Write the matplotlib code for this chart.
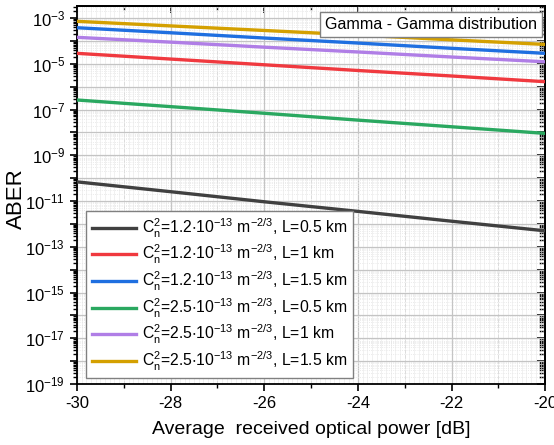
import matplotlib
matplotlib.use('Agg')
import matplotlib.pyplot as plt
import matplotlib.ticker as mticker
import numpy as np

plt.rcParams['font.family'] = ['Liberation Sans', 'DejaVu Sans']
plt.rcParams['mathtext.default'] = 'regular'
plt.rcParams['axes.unicode_minus'] = False

# received power [dB]
power = [-30, -28, -26, -24, -22, -20]

# log10(ABER)
log_aber_12_05 = [-10.16, -10.59, -11.03, -11.45, -11.88, -12.30]
log_aber_12_10 = [-4.54, -4.79, -5.04, -5.29, -5.53, -5.78]
log_aber_12_15 = [-3.42, -3.64, -3.87, -4.09, -4.32, -4.54]
log_aber_25_05 = [-6.58, -6.87, -7.16, -7.46, -7.75, -8.04]
log_aber_25_10 = [-3.84, -4.05, -4.27, -4.48, -4.70, -4.91]
log_aber_25_15 = [-3.14, -3.34, -3.54, -3.74, -3.95, -4.15]

labels = [
    r'$C_n^2$=1.2$\cdot$10$^{-13}$ m$^{-2/3}$, L=0.5 km',
    r'$C_n^2$=1.2$\cdot$10$^{-13}$ m$^{-2/3}$, L=1 km',
    r'$C_n^2$=1.2$\cdot$10$^{-13}$ m$^{-2/3}$, L=1.5 km',
    r'$C_n^2$=2.5$\cdot$10$^{-13}$ m$^{-2/3}$, L=0.5 km',
    r'$C_n^2$=2.5$\cdot$10$^{-13}$ m$^{-2/3}$, L=1 km',
    r'$C_n^2$=2.5$\cdot$10$^{-13}$ m$^{-2/3}$, L=1.5 km',
]
series = [log_aber_12_05, log_aber_12_10, log_aber_12_15,
          log_aber_25_05, log_aber_25_10, log_aber_25_15]
colors = ['#404040', '#f0393f', '#1f6fe0', '#2aa860', '#b07ee6', '#d4a000']

fig = plt.figure(figsize=(5.54, 4.45), dpi=100)
ax = fig.add_axes([0.139, 0.137, 0.845, 0.849])

for s, lab, c in zip(series, labels, colors):
    ax.plot(power, 10 ** np.array(s), color=c, lw=2.4, label=lab, zorder=3)

ax.set_yscale('log')
ax.set_xlim(-30, -20)
ax.set_ylim(1e-19, 10 ** -2.48)

# fine background grid
for xv in np.arange(-30, -20, 0.1):
    ax.axvline(xv, color='#ececec', lw=0.5, zorder=0)

ax.xaxis.set_major_locator(mticker.MultipleLocator(2))
ax.xaxis.set_minor_locator(mticker.MultipleLocator(1))
ax.yaxis.set_major_locator(mticker.LogLocator(base=10, numticks=30))
ax.yaxis.set_minor_locator(mticker.LogLocator(base=10, subs=np.arange(2, 10), numticks=30))

def ylab(v, pos):
    e = int(round(np.log10(v)))
    if e % 2 == 0:
        return ''
    return r'10$^{%d}$' % e

ax.yaxis.set_major_formatter(mticker.FuncFormatter(ylab))
ax.yaxis.set_minor_formatter(mticker.NullFormatter())

ax.grid(True, which='major', color='#c4c4c4', lw=0.9, zorder=1)
ax.grid(True, which='minor', axis='x', color='#dcdcdc', lw=0.7, ls='--', zorder=1)
ax.grid(True, which='minor', axis='y', color='#e4e4e4', lw=0.6, ls=':', zorder=1)

ax.tick_params(which='major', direction='out', length=5, width=1.2, labelsize=12)
ax.tick_params(which='minor', direction='out', length=3, width=1)

# inward ticks on top and right
sec_y = ax.secondary_yaxis('right')
sec_y.set_yscale('log')
sec_y.yaxis.set_major_locator(mticker.LogLocator(base=10, numticks=30))
sec_y.yaxis.set_minor_locator(mticker.LogLocator(base=10, subs=np.arange(2, 10), numticks=30))
sec_y.tick_params(which='major', direction='in', length=6, width=1.2, labelright=False)
sec_y.tick_params(which='minor', direction='in', length=4, width=1)
sec_x = ax.secondary_xaxis('top')
sec_x.xaxis.set_major_locator(mticker.MultipleLocator(2))
sec_x.xaxis.set_minor_locator(mticker.MultipleLocator(1))
sec_x.tick_params(which='major', direction='in', length=5, width=1.2, labeltop=False)
sec_x.tick_params(which='minor', direction='in', length=3, width=1)

for sp in list(ax.spines.values()) + [sec_y.spines['right'], sec_x.spines['top']]:
    sp.set_linewidth(1.3)

ax.set_xlabel('Average  received optical power [dB]', fontsize=14)
ax.xaxis.set_label_coords(0.5, -0.098)
ax.set_ylabel('ABER', fontsize=16)
ax.yaxis.set_label_coords(-0.106, 0.49)

leg = ax.legend(loc='lower left', bbox_to_anchor=(0.02, 0.015), fontsize=11.3,
                handlelength=2.8, handletextpad=0.4, labelspacing=0.22,
                borderpad=0.35, borderaxespad=0, fancybox=False, framealpha=1,
                edgecolor='#808080')
leg.get_frame().set_linewidth(1.0)

ax.text(0.983, 0.972, 'Gamma - Gamma distribution', transform=ax.transAxes,
        ha='right', va='top', fontsize=11.6, zorder=5,
        bbox=dict(boxstyle='square,pad=0.3', fc='white', ec='#808080', lw=1.0))

fig.savefig('out.png', dpi=100)
